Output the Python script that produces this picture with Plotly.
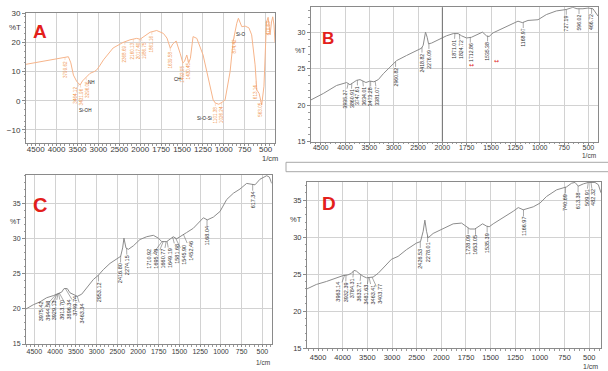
import numpy as np
import plotly.graph_objects as go

# ---------------- data (wavenumber 1/cm, %T) ----------------
A_wn = [4732, 4396, 4078, 3916, 3800, 3718, 3660, 3598, 3518, 3470, 3438, 3380, 3318, 3200, 3100,
        3038, 2960, 2880, 2648, 2410, 2244, 2084, 2004, 1962, 1882, 1803, 1723, 1680, 1640, 1610,
        1570, 1523, 1490, 1470, 1443, 1420, 1400, 1368, 1323, 1248, 1188, 1128, 1101, 1060, 1020,
        985, 925, 889, 845, 826, 785, 745, 700, 667, 626, 606, 578, 547, 520, 500,
        490, 470, 455, 447, 430, 415, 400, 388]
A_T = [12.5, 13.4, 14.2, 14.5, 15.0, 15.1, 13.0, 8.8, 6.6, 6.0, 5.4, 6.8, 7.7, 9.4, 10.0,
       10.6, 12.2, 14.0, 18.1, 20.0, 20.9, 21.4, 21.1, 22.0, 23.5, 24.1, 23.1, 21.5, 18.0, 19.5,
       20.5, 16.3, 13.0, 13.5, 15.7, 13.0, 14.5, 22.0, 21.4, 15.7, 7.8, 0.3, -0.8, -1.2, -0.5,
       0.3, 10.0, 20.3, 26.6, 28.3, 25.4, 25.6, 25.0, 22.6, 12.3, 3.7, 2.5, -1.4, 5.0, 20.0,
       27.0, 28.6, 25.0, 22.6, 27.0, 28.8, 26.0, 20.0]

B_wn = [4706, 4446, 4172, 4034, 3966, 3898, 3830, 3762, 3692, 3638, 3570, 3488, 3406, 3316, 3214,
        3078, 2996, 2940, 2736, 2530, 2428, 2394, 2346, 2312, 2284, 2222, 2052, 1957, 1888, 1837,
        1803, 1752, 1701, 1667, 1615, 1588, 1547, 1520, 1479, 1376, 1274, 1223, 1178, 1120, 1017,
        932, 829, 727, 659, 617, 556, 504, 453, 418, 401]
B_T = [20.7, 21.6, 22.7, 23.0, 23.1, 22.8, 23.1, 23.4, 23.5, 23.3, 23.1, 23.3, 23.2, 23.5, 24.3,
       25.2, 25.7, 26.1, 26.8, 27.5, 27.8, 28.2, 30.0, 29.3, 28.4, 28.5, 29.1, 29.5, 29.8, 29.8,
       29.5, 29.2, 29.3, 29.5, 29.9, 30.0, 29.5, 29.4, 29.9, 30.5, 31.2, 31.5, 31.3, 31.6, 31.7,
       32.4, 32.9, 33.1, 33.4, 33.2, 33.2, 33.3, 33.2, 32.5, 32.2]

C_wn = [4700, 4524, 4364, 4202, 4042, 3922, 3840, 3784, 3704, 3640, 3560, 3462, 3358, 3238, 3076,
        2956, 2836, 2674, 2514, 2418, 2370, 2338, 2290, 2232, 2112, 1976, 1895, 1815, 1755, 1714,
        1654, 1614, 1574, 1534, 1473, 1413, 1333, 1252, 1212, 1164, 1091, 1011, 931, 850, 770,
        690, 641, 589, 529, 448, 416, 388]
C_T = [20.0, 20.6, 21.0, 21.6, 21.9, 22.2, 22.4, 22.9, 22.9, 22.3, 22.1, 21.8, 22.1, 23.0, 24.2,
       24.8, 25.6, 26.5, 27.1, 27.5, 28.7, 30.1, 28.7, 28.5, 29.0, 29.9, 30.3, 30.5, 30.1, 29.6,
       29.6, 30.0, 30.3, 30.0, 30.5, 30.9, 31.5, 32.5, 33.0, 32.7, 33.1, 33.9, 35.6, 36.5, 37.1,
       37.9, 37.8, 37.7, 38.5, 39.0, 38.8, 37.9]

D_wn = [4724, 4534, 4330, 4128, 3992, 3892, 3824, 3770, 3722, 3668, 3586, 3518, 3452, 3384, 3282,
        3146, 3012, 2876, 2708, 2504, 2422, 2368, 2334, 2300, 2268, 2166, 1981, 1880, 1795, 1745,
        1711, 1660, 1626, 1582, 1542, 1515, 1474, 1372, 1271, 1220, 1169, 1068, 1000, 933, 831,
        730, 679, 645, 611, 561, 510, 442, 408, 381]
D_T = [23.0, 23.6, 24.0, 24.5, 24.8, 24.9, 25.1, 25.5, 25.4, 25.1, 24.7, 24.5, 24.5, 24.6, 25.1,
       26.0, 27.0, 27.4, 28.3, 29.2, 29.4, 30.8, 32.3, 30.8, 29.9, 30.5, 31.2, 31.8, 31.9, 31.4,
       31.1, 31.1, 31.4, 31.8, 31.5, 31.4, 31.8, 32.6, 33.5, 34.0, 33.7, 34.1, 34.6, 35.5, 36.4,
       36.8, 37.3, 37.4, 36.9, 37.2, 37.4, 37.4, 37.1, 36.0]

TICK_WN = [4500, 4000, 3500, 3000, 2500, 2000, 1750, 1500, 1250, 1000, 750, 500]
TICK_LABELS = ["4500", "4000", "3500", "3000", "2500", "2000", "1750", "1500", "1250", "1000", "750", "500"]

A_peaks = ["3799.62", "3464.12", "3431.96", "3296.06", "2368.69", "2160.13", "2017.40", "1986.75",
           "1861.16", "1639.58", "1492.05", "1430.45", "1101.38", "1026.24", "874.42", "613.14",
           "563.05", "470.63"]
A_groups = ["Si-OH", "NH", "CH", "Si-O-Si", "Si-O"]
A_group_wn = [3318, 3176, 1559, 1236, 794]
A_group_T = [-3.2, 6.1, 7.2, -6.0, 22.8]

B_peaks = ["3935.27", "3860.91", "3747.61", "3634.01", "3473.28", "3381.07", "2960.82", "2418.82",
           "2276.09", "1871.01", "1824.72", "1712.86", "1535.38", "1168.97", "727.19", "596.02",
           "466.72"]
C_peaks = ["3975.42", "3944.58", "3929.13", "3913.70", "3896.34", "3749.74", "3463.34", "2953.12",
           "2416.80", "2274.15", "1710.92", "1695.49", "1660.77", "1649.19", "1581.68", "1545.90",
           "1452.46", "1168.04", "617.34"]
D_peaks = ["3963.14", "3932.39", "3784.31", "3633.71", "3481.63", "3463.41", "3403.77", "2426.53",
           "2278.01", "1728.09", "1653.05", "1535.39", "1166.97", "740.69", "613.38", "509.91",
           "482.32"]
B_marks_wn = [1698, 1442]
B_marks_T = [25.6, 26.1]

# ---------------- helpers ----------------
FONT = "Liberation Sans"
W, H = 608, 371


def to_u(w):
    """Shimadzu style axis: 500 per division above 2000, 250 per division below."""
    w = np.asarray(w, float)
    return np.where(w > 2000, 2000 + (w - 2000) / 2.0, w)


def spread(px, sep):
    px = np.asarray(px, float)
    idx = np.argsort(px)
    xs = px[idx]
    blocks = []
    for v in xs:
        blocks.append([v])
        while len(blocks) > 1:
            b1, b2 = blocks[-2], blocks[-1]
            end1 = np.mean(b1) + (len(b1) - 1) / 2 * sep
            start2 = np.mean(b2) - (len(b2) - 1) / 2 * sep
            if start2 - end1 < sep:
                blocks[-2:] = [b1 + b2]
            else:
                break
    out = []
    for b in blocks:
        c, n = np.mean(b), len(b)
        out += [c + (k - (n - 1) / 2) * sep for k in range(n)]
    res = np.empty(len(xs))
    res[idx] = out
    return res


PANELS = [
    dict(key="A", wn=A_wn, T=A_T, peaks=A_peaks, line="#f6b48a", lab="#f09650", lead="#f5bd98",
         px=(26, 275), py=(13.3, 143), xr=(4732, 388), yr=(-14.5, 30), yt=[-10, 0, 10, 20, 30], ym=2,
         tfs=8, pfs=4.6, gap=2, letter=(40, 31, 19), pctT=25, unit=(270, 158), so=-4),
    dict(key="B", wn=B_wn, T=B_T, peaks=B_peaks, line="#8c8c8c", lab="#333333", lead="#555555",
         px=(310.7, 598), py=(7.3, 141.7), xr=(4705, 401), yr=(15, 33.4), yt=[15, 20, 25, 30], ym=1,
         tfs=7, pfs=5.2, gap=4, letter=(328, 38, 17), pctT=27.5, unit=(589, 155), so=-3),
    dict(key="C", wn=C_wn, T=C_T, peaks=C_peaks, line="#8c8c8c", lab="#333333", lead="#555555",
         px=(26, 271.7), py=(175, 344), xr=(4700, 388), yr=(15, 39.1), yt=[15, 20, 25, 30, 35], ym=1,
         tfs=7, pfs=5.5, gap=5, letter=(40, 205, 20), pctT=32.5, unit=(263, 362), so=-1),
    dict(key="D", wn=D_wn, T=D_T, peaks=D_peaks, line="#8c8c8c", lab="#333333", lead="#555555",
         px=(307, 601), py=(181.7, 348), xr=(4724, 381), yr=(15, 37.5), yt=[15, 20, 25, 30, 35], ym=1,
         tfs=7.5, pfs=5.5, gap=5, letter=(329, 203, 19), pctT=32.4, unit=(590, 366), so=0),
]

fig = go.Figure()
tick_u = to_u(TICK_WN)
minor_x = np.arange(350, 3400, 50.0)

for i, p in enumerate(PANELS, start=1):
    s = "" if i == 1 else str(i)
    xa, ya = "x" + s, "y" + s
    wn = np.asarray(p["wn"], float)
    T = np.asarray(p["T"], float)
    u = to_u(wn)
    fig.add_trace(go.Scatter(x=u, y=T, mode="lines", line=dict(color=p["line"], width=1),
                             xaxis=xa, yaxis=ya, hoverinfo="skip", showlegend=False))
    x0, x1 = p["px"]
    y0, y1 = p["py"]
    u0, u1 = float(to_u(p["xr"][0])), float(to_u(p["xr"][1]))
    tickfont = dict(size=p["tfs"], color="#3a3a3a", family=FONT)
    fig.update_layout({
        "xaxis" + s: dict(domain=[x0 / W, x1 / W], range=[u0, u1], anchor=ya, automargin=False,
                          tickmode="array", tickvals=tick_u, ticktext=TICK_LABELS,
                          showgrid=True, gridcolor="#d2d2d2", gridwidth=1, zeroline=False,
                          showline=True, linecolor="#8a8a8a", linewidth=1, mirror=True,
                          ticks="outside", ticklen=2, tickcolor="#8a8a8a", tickfont=tickfont,
                          ticklabelstandoff=p["so"],
                          minor=dict(ticks="outside", ticklen=1.5, tickcolor="#9a9a9a",
                                     tickmode="array", tickvals=minor_x, showgrid=False)),
        "yaxis" + s: dict(domain=[1 - y1 / H, 1 - y0 / H], range=list(p["yr"]), anchor=xa,
                          automargin=False, tickmode="array", tickvals=p["yt"],
                          showgrid=True, gridcolor="#d2d2d2", gridwidth=1, zeroline=False,
                          showline=True, linecolor="#8a8a8a", linewidth=1, mirror=True,
                          ticks="outside", ticklen=3, tickcolor="#8a8a8a", tickfont=tickfont,
                          minor=dict(ticks="outside", ticklen=1.5, tickcolor="#9a9a9a",
                                     tickmode="array",
                                     tickvals=np.arange(p["yr"][0] // 1 - 2, p["yr"][1] + 1, p["ym"]),
                                     showgrid=False)),
    })

    # peak labels
    pk_u = to_u([float(v) for v in p["peaks"]])
    order = np.argsort(u)
    pk_T = np.interp(pk_u, u[order], T[order])
    ppu = (x1 - x0) / (u0 - u1)
    pk_px = x0 + (u0 - pk_u) * ppu
    sp = spread(pk_px, p["pfs"] * 1.25)
    for txt, uu, tt, hp, nx in zip(p["peaks"], pk_u, pk_T, pk_px, sp):
        L = len(txt) * 0.56 * p["pfs"]
        fig.add_annotation(x=float(uu), y=float(tt), xref=xa, yref=ya, text=txt, textangle=-90,
                           showarrow=True, arrowhead=0, arrowwidth=0.5, arrowcolor=p["lead"],
                           ax=float(nx - hp), ay=p["gap"] + L / 2 + 1, borderpad=0,
                           font=dict(size=p["pfs"], color=p["lab"], family=FONT))

    # axis titles
    fig.add_annotation(x=(x0 - 3) / W, y=p["pctT"], xref="paper", yref=ya, text="%T",
                       showarrow=False, xanchor="right", font=tickfont)
    fig.add_annotation(x=p["unit"][0] / W, y=1 - p["unit"][1] / H, xref="paper", yref="paper",
                       text="1/cm", showarrow=False, xanchor="center", yanchor="middle",
                       font=dict(size=p["tfs"] - 0.5, color="#3a3a3a", family=FONT))
    lx, ly, lfs = p["letter"]
    fig.add_annotation(x=lx / W, y=1 - ly / H, xref="paper", yref="paper", text="<b>%s</b>" % p["key"],
                       showarrow=False, xanchor="center", yanchor="middle",
                       font=dict(size=lfs, color="#e3201b", family=FONT))

# group labels in panel A
for g, gw, gt in zip(A_groups, A_group_wn, A_group_T):
    fig.add_annotation(x=float(to_u(gw)), y=gt, xref="x", yref="y", text=g, showarrow=False,
                       font=dict(size=4.6, color="#222222", family=FONT))

# red marks in panel B
for mw, mt in zip(B_marks_wn, B_marks_T):
    fig.add_annotation(x=float(to_u(mw)), y=mt, xref="x2", yref="y2", text="↔", showarrow=False,
                       font=dict(size=6, color="#e03030", family="DejaVu Sans"))

# darker split line at 2000 in B, and separator box
fig.add_shape(type="line", xref="x2", yref="y2 domain", x0=2000, x1=2000, y0=0, y1=1,
              line=dict(color="#6e6e6e", width=1))
fig.add_shape(type="rect", xref="paper", yref="paper", x0=286 / W, x1=1.02,
              y0=1 - 171.7 / H, y1=1 - 162.3 / H, line=dict(color="#a8a8a8", width=1))

fig.update_layout(width=W, height=H, margin=dict(l=0, r=0, t=0, b=0), autosize=False,
                  paper_bgcolor="white", plot_bgcolor="white", showlegend=False, hovermode=False)
fig.write_html("out.html", config={"displayModeBar": False},
               post_script="document.body.style.margin='0';document.body.style.padding='0';"
                           "document.body.style.overflow='hidden';")
